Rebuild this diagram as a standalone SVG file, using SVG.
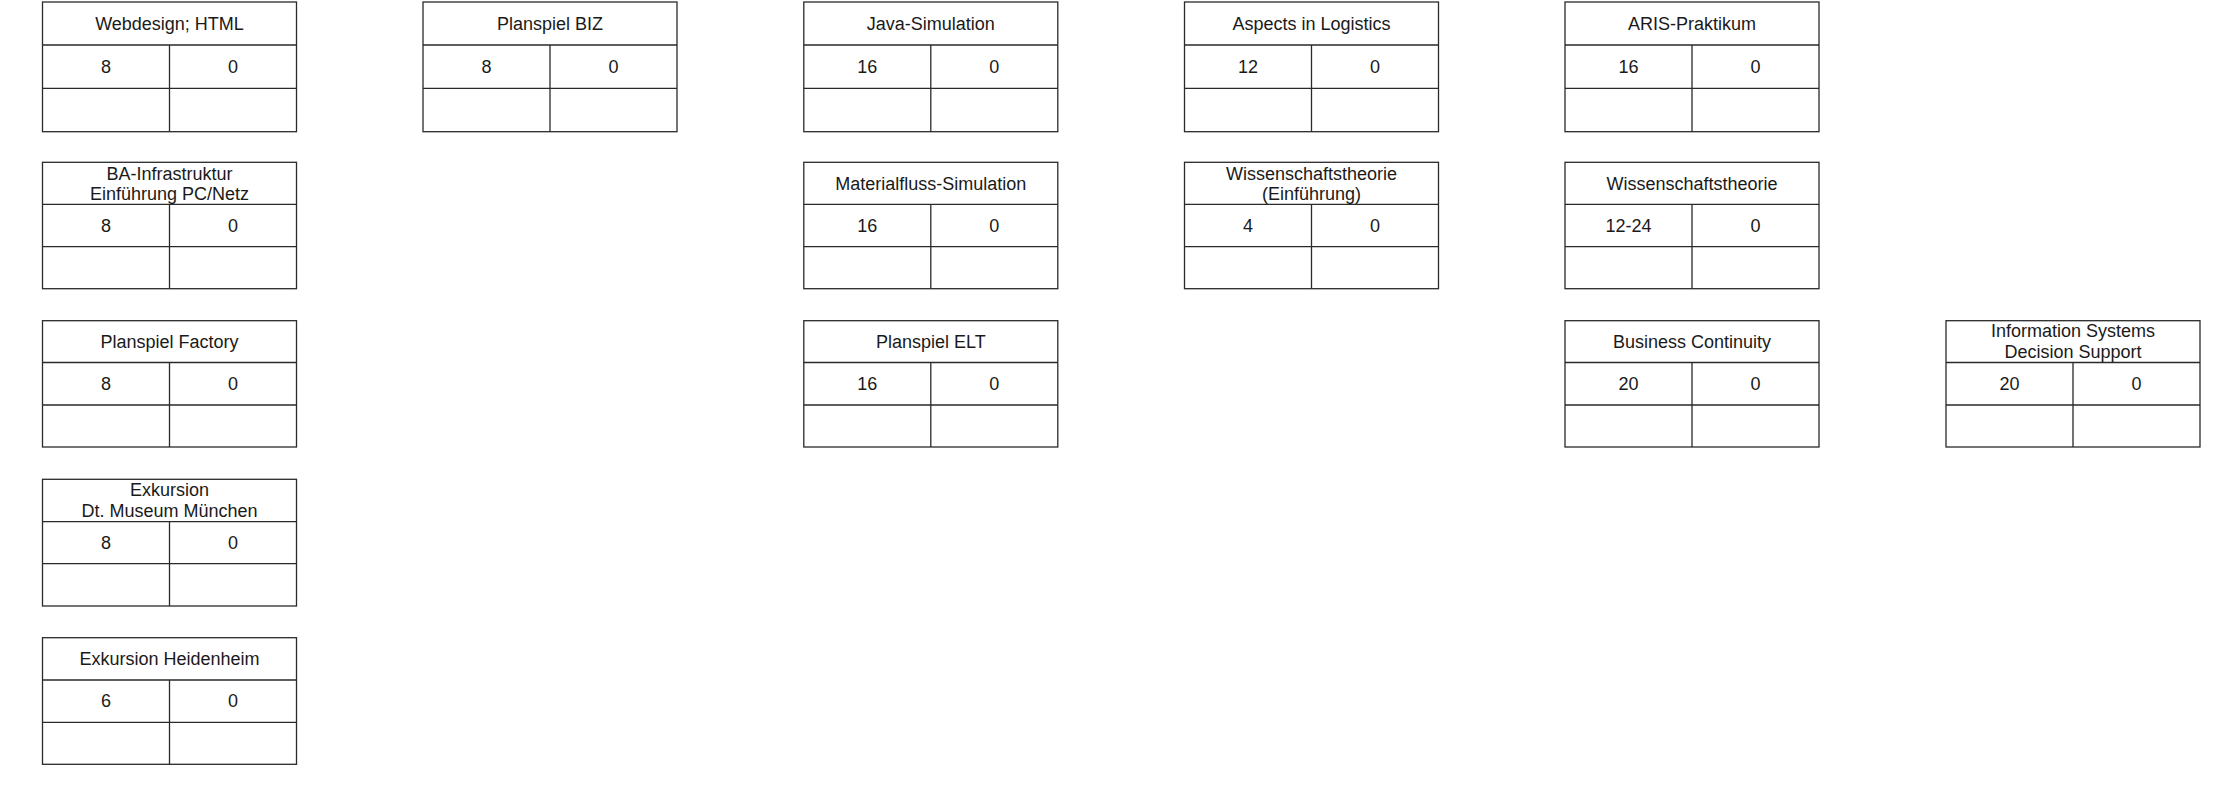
<svg xmlns="http://www.w3.org/2000/svg" width="2232" height="807" viewBox="0 0 2232 807">
<style>
.b{fill:#fff;stroke:#2a2a2a;stroke-width:1.3}
.l{stroke:#2a2a2a;stroke-width:1.3;fill:none}
text{font-family:"Liberation Sans",Arial,sans-serif;font-size:18px;fill:#1a1a1a;text-anchor:middle}
</style>
<rect width="2232" height="807" fill="#fff"/>
<g id="connectors"></g>

<!-- Row 1 -->
<g id="n-webdesign" transform="translate(42.5,2)">
<rect class="b" width="254" height="129.7"/><path class="l" d="M0 43H254M0 86.3H254M127 43V129.7"/>
<text x="127" y="28">Webdesign; HTML</text><text x="63.5" y="71">8</text><text x="190.5" y="71">0</text>
</g>
<g id="n-planspiel-biz" transform="translate(423,2)">
<rect class="b" width="254" height="129.7"/><path class="l" d="M0 43H254M0 86.3H254M127 43V129.7"/>
<text x="127" y="28">Planspiel BIZ</text><text x="63.5" y="71">8</text><text x="190.5" y="71">0</text>
</g>
<g id="n-java-sim" transform="translate(803.8,2)">
<rect class="b" width="254" height="129.7"/><path class="l" d="M0 43H254M0 86.3H254M127 43V129.7"/>
<text x="127" y="28">Java-Simulation</text><text x="63.5" y="71">16</text><text x="190.5" y="71">0</text>
</g>
<g id="n-aspects" transform="translate(1184.5,2)">
<rect class="b" width="254" height="129.7"/><path class="l" d="M0 43H254M0 86.3H254M127 43V129.7"/>
<text x="127" y="28">Aspects in Logistics</text><text x="63.5" y="71">12</text><text x="190.5" y="71">0</text>
</g>
<g id="n-aris" transform="translate(1565,2)">
<rect class="b" width="254" height="129.7"/><path class="l" d="M0 43H254M0 86.3H254M127 43V129.7"/>
<text x="127" y="28">ARIS-Praktikum</text><text x="63.5" y="71">16</text><text x="190.5" y="71">0</text>
</g>

<!-- Row 2 -->
<g id="n-ba-infra" transform="translate(42.5,162.3)">
<rect class="b" width="254" height="126.4"/><path class="l" d="M0 42H254M0 84.4H254M127 42V126.4"/>
<text x="127" y="17.3">BA-Infrastruktur</text><text x="127" y="37.8">Einführung PC/Netz</text>
<text x="63.5" y="69.6">8</text><text x="190.5" y="69.6">0</text>
</g>
<g id="n-materialfluss" transform="translate(803.8,162.3)">
<rect class="b" width="254" height="126.4"/><path class="l" d="M0 42H254M0 84.4H254M127 42V126.4"/>
<text x="127" y="27.4">Materialfluss-Simulation</text><text x="63.5" y="69.6">16</text><text x="190.5" y="69.6">0</text>
</g>
<g id="n-wiss-einf" transform="translate(1184.5,162.3)">
<rect class="b" width="254" height="126.4"/><path class="l" d="M0 42H254M0 84.4H254M127 42V126.4"/>
<text x="127" y="17.3">Wissenschaftstheorie</text><text x="127" y="37.8">(Einführung)</text>
<text x="63.5" y="69.6">4</text><text x="190.5" y="69.6">0</text>
</g>
<g id="n-wiss" transform="translate(1565,162.3)">
<rect class="b" width="254" height="126.4"/><path class="l" d="M0 42H254M0 84.4H254M127 42V126.4"/>
<text x="127" y="27.4">Wissenschaftstheorie</text><text x="63.5" y="69.6">12-24</text><text x="190.5" y="69.6">0</text>
</g>

<!-- Row 3 -->
<g id="n-planspiel-factory" transform="translate(42.5,320.7)">
<rect class="b" width="254" height="126.3"/><path class="l" d="M0 41.8H254M0 84.3H254M127 41.8V126.3"/>
<text x="127" y="27.3">Planspiel Factory</text><text x="63.5" y="69.4">8</text><text x="190.5" y="69.4">0</text>
</g>
<g id="n-planspiel-elt" transform="translate(803.8,320.7)">
<rect class="b" width="254" height="126.3"/><path class="l" d="M0 41.8H254M0 84.3H254M127 41.8V126.3"/>
<text x="127" y="27.3">Planspiel ELT</text><text x="63.5" y="69.4">16</text><text x="190.5" y="69.4">0</text>
</g>
<g id="n-business-continuity" transform="translate(1565,320.7)">
<rect class="b" width="254" height="126.3"/><path class="l" d="M0 41.8H254M0 84.3H254M127 41.8V126.3"/>
<text x="127" y="27.3">Business Continuity</text><text x="63.5" y="69.4">20</text><text x="190.5" y="69.4">0</text>
</g>
<g id="n-info-systems" transform="translate(1946,320.7)">
<rect class="b" width="254" height="126.3"/><path class="l" d="M0 41.8H254M0 84.3H254M127 41.8V126.3"/>
<text x="127" y="16.8">Information Systems</text><text x="127" y="37.3">Decision Support</text>
<text x="63.5" y="69.4">20</text><text x="190.5" y="69.4">0</text>
</g>

<!-- Row 4 -->
<g id="n-exkursion-muenchen" transform="translate(42.5,479.3)">
<rect class="b" width="254" height="126.7"/><path class="l" d="M0 42.4H254M0 84.4H254M127 42.4V126.7"/>
<text x="127" y="16.8">Exkursion</text><text x="127" y="37.5">Dt. Museum München</text>
<text x="63.5" y="69.8">8</text><text x="190.5" y="69.8">0</text>
</g>

<!-- Row 5 -->
<g id="n-exkursion-heidenheim" transform="translate(42.5,637.7)">
<rect class="b" width="254" height="126.6"/><path class="l" d="M0 42.3H254M0 84.6H254M127 42.3V126.6"/>
<text x="127" y="27.6">Exkursion Heidenheim</text><text x="63.5" y="69.8">6</text><text x="190.5" y="69.8">0</text>
</g>
</svg>
